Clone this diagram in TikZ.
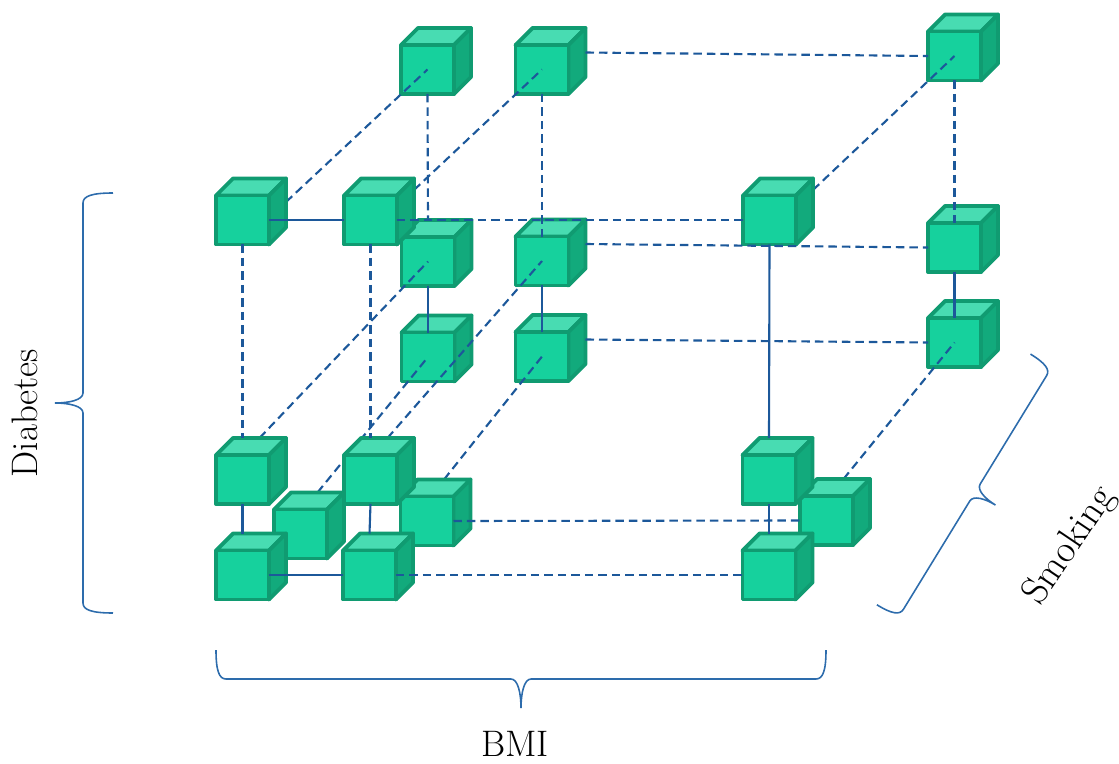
\documentclass[tikz,border=0pt]{standalone}
\usepackage{tikz}
\usetikzlibrary{calc}
\usepackage{xcolor}

\definecolor{cubefront}{RGB}{22,209,157}
\definecolor{cubetop}{RGB}{72,220,178}
\definecolor{cubeside}{RGB}{18,170,124}
\definecolor{cubeedge}{RGB}{16,155,113}
\definecolor{linkblue}{RGB}{28,88,154}
\definecolor{bracketblue}{RGB}{45,108,172}

\pgfdeclarelayer{back}
\pgfdeclarelayer{depth}
\pgfdeclarelayer{links}
\pgfsetlayers{back,depth,main,links}

\begin{document}
\begin{tikzpicture}[x=0.02cm, y=-0.02cm,
    cube/.style={draw=cubeedge, fill=cubefront, line width=2.2pt, line join=round,
                 minimum width=1.06cm, minimum height=0.98cm,
                 inner sep=0pt, outer sep=0pt,
                 append after command={\pgfextra{%
                   \filldraw[draw=cubeedge, fill=cubetop, line width=2.2pt, line join=round]
                     (\tikzlastnode.north west) -- ++(17,-17)
                     -- ($(\tikzlastnode.north east)+(17,-17)$)
                     -- (\tikzlastnode.north east) -- cycle;
                   \filldraw[draw=cubeedge, fill=cubeside, line width=2.2pt, line join=round]
                     (\tikzlastnode.north east) -- ++(17,-17)
                     -- ($(\tikzlastnode.south east)+(17,-17)$)
                     -- (\tikzlastnode.south east) -- cycle;}}},
    link/.style={linkblue, line width=1.2pt},
    hid/.style={link, dash pattern=on 0.17cm off 0.1cm},
    bracket/.style={bracketblue, line width=0.9pt},
    lab/.style={font=\fontsize{21}{25}\selectfont},
    pics/curly/.style n args={3}{code={
      \draw[bracket] (-#2,-#1) .. controls (-0.3*#2,-#1) and (0,-#1+3) .. (0,-#1+10)
        -- (0,-10) .. controls (0,-3) and (0.5*#3,0) .. (#3,0)
        .. controls (0.5*#3,0) and (0,3) .. (0,10)
        -- (0,#1-10) .. controls (0,#1-3) and (-0.3*#2,#1) .. (-#2,#1);}}
]
\useasboundingbox (0,0) rectangle (1119,764);

% cubes at the back (drawn first)
\begin{pgfonlayer}{back}
\node[cube] (t1) at (427.5,69.5) {};
\node[cube] (t2) at (542,69.5) {};
\node[cube] (t3) at (954.5,56) {};
\node[cube] (m1) at (428,261.5) {};
\node[cube] (m2) at (542,261) {};
\node[cube] (m3) at (954.5,247.5) {};
\node[cube] (n1) at (428,357) {};
\node[cube] (n2) at (542,356.5) {};
\node[cube] (n3) at (954.5,342.5) {};
\end{pgfonlayer}

% front cubes
\node[cube] (u1) at (242.5,220) {};
\node[cube] (u2) at (370.5,220) {};
\node[cube] (u3) at (769.5,220) {};
\node[cube] (o1) at (300.5,534) {};
\node[cube] (o2) at (427,521) {};
\node[cube] (o3) at (826.5,520.5) {};
\node[cube] (l1) at (242.5,479.5) {};
\node[cube] (l2) at (370.5,479.5) {};
\node[cube] (l3) at (769,479.5) {};
\node[cube] (b1) at (242.5,575) {};
\node[cube] (b2) at (369.5,575) {};
\node[cube] (b3) at (769,575) {};

% depth links, hidden behind the front cubes
\begin{pgfonlayer}{depth}
\draw[hid] ($(u1.east)+(17,-18)$) -- (t1.center);
\draw[hid] ($(u2.east)+(17,-30)$) -- (t2.center);
\draw[hid] ($(u3.east)+(17,-30)$) -- (t3.center);
\draw[hid] ($(l1.north)+(17,-17)$) -- (m1.center);
\draw[hid] ($(l2.north)+(17,-17)$) -- (m2.center);
\draw[hid] ($(o1.north)+(17,-17)$) -- (n1.center);
\draw[hid] ($(o2.north)+(17,-17)$) -- (n2.center);
\draw[hid] ($(o3.north)+(17,-17)$) -- (n3.center);
\end{pgfonlayer}

\begin{pgfonlayer}{links}
% horizontal links
\draw[link] (u1.east) -- (u2.west);
\draw[hid] (u2.east) -- (u3.west);
\draw[hid] ($(t2.east)+(17,-17)$) -- (t3.west);
\draw[hid] ($(m2.east)+(17,-17)$) -- (m3.west);
\draw[hid] ($(n2.east)+(17,-17)$) -- (n3.west);
\draw[hid] (o2.east) -- (o3.west);
\draw[hid] (b2.east) -- (b3.west);
\draw[link] (b1.east) -- (b2.west);
% vertical links
\draw[hid] (u1.south) -- ($(l1.north)+(0,-17)$);
\draw[hid] (u2.south) -- ($(l2.north)+(0,-17)$);
\draw[link] (u3.south) -- ($(l3.north)+(0,-17)$);
\draw[link] (l1.south) -- ($(b1.north)+(0,-17)$);
\draw[link] (l2.south) -- ($(b2.north)+(0,-17)$);
\draw[link] (l3.south) -- ($(b3.north)+(0,-17)$);
\draw[hid] (t1.south) -- ($(m1.north)+(0,-17)$);
\draw[hid] (t2.south) -- (m2.north);
\draw[hid] (t3.south) -- (m3.north);
\draw[link] (m1.south) -- (n1.north);
\draw[link] (m2.south) -- (n2.north);
\draw[link] (m3.south) -- (n3.north);
\end{pgfonlayer}

% braces and axis names
\pic[rotate=180] at (83,403) {curly={210}{30}{28}};
\pic[rotate=-90] at (521,679) {curly={305}{29}{29}};
\pic[rotate=-31.5] at (975,492.5) {curly={147}{25}{24}};
\node[lab, rotate=90] (diabetes) at (25,413) {Diabetes};
\node[lab] (bmi) at (515,744) {BMI};
\node[lab, rotate=56, font=\fontsize{22}{26}\selectfont] (smoking) at (1070,546) {Smoking};
\end{tikzpicture}
\end{document}
